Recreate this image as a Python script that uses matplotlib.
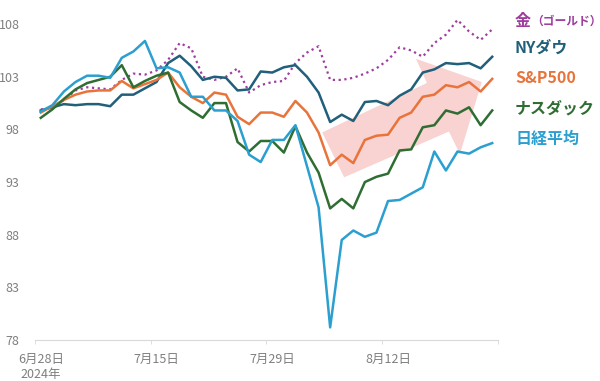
import numpy as np
import matplotlib
matplotlib.use("Agg")
import matplotlib.pyplot as plt
from matplotlib.patches import Polygon

plt.rcParams['font.family'] = ['Noto Sans CJK JP', 'DejaVu Sans']

# data: index vs 6/28 = 100, 40 trading days
tick_pos = [0, 10, 20, 30]
tick_labels = ["6月28日\n2024年", "7月15日", "7月29日", "8月12日"]
y_ticks = [78, 83, 88, 93, 98, 103, 108]

gold = [99.9, 100.0, 100.8, 101.7, 102.0, 101.9, 101.8, 102.7, 103.3, 103.2,
        103.6, 104.6, 106.2, 105.7, 103.0, 102.7, 103.0, 103.8, 101.5, 102.2,
        102.5, 102.6, 104.3, 105.3, 105.9, 102.7, 102.7, 102.9, 103.3, 103.8,
        104.6, 105.8, 105.5, 104.9, 106.2, 107.0, 108.4, 107.3, 106.5, 107.5]
dow = [99.8, 100.1, 100.4, 100.3, 100.4, 100.4, 100.2, 101.3, 101.3, 101.9,
       102.5, 104.3, 105.0, 104.0, 102.7, 103.0, 102.9, 101.7, 101.8, 103.5,
       103.4, 103.9, 104.1, 103.0, 101.5, 98.7, 99.4, 98.8, 100.6, 100.7,
       100.3, 101.2, 101.8, 103.4, 103.7, 104.3, 104.2, 104.3, 103.8, 104.9]
sp500 = [99.6, 100.2, 100.8, 101.3, 101.6, 101.7, 101.7, 102.6, 101.9, 102.3,
         102.7, 103.4, 102.0, 101.1, 100.5, 101.5, 101.3, 99.2, 98.5, 99.6,
         99.6, 99.2, 100.7, 99.6, 97.7, 94.6, 95.6, 94.8, 97.0, 97.4,
         97.5, 99.1, 99.6, 101.1, 101.3, 102.2, 102.0, 102.5, 101.6, 102.8]
nasdaq = [99.1, 99.9, 100.9, 101.8, 102.4, 102.7, 103.0, 104.1, 102.0, 102.6,
          103.1, 103.4, 100.6, 99.8, 99.1, 100.5, 100.5, 96.8, 95.9, 96.9,
          96.9, 95.8, 98.3, 95.8, 93.9, 90.5, 91.4, 90.5, 93.0, 93.5,
          93.8, 96.0, 96.1, 98.2, 98.4, 99.8, 99.5, 100.1, 98.4, 99.8]
nikkei = [99.7, 100.3, 101.6, 102.5, 103.1, 103.1, 102.9, 104.8, 105.4, 106.4,
          103.8, 103.9, 103.4, 101.1, 101.1, 99.8, 99.8, 98.8, 95.6, 94.9,
          97.0, 97.0, 98.4, 94.5, 90.6, 79.2, 87.5, 88.4, 87.8, 88.2,
          91.2, 91.3, 91.9, 92.5, 95.9, 94.1, 95.9, 95.7, 96.3, 96.7]

names = ["金", "NYダウ", "S&P500", "ナスダック", "日経平均"]
colors = ['#9e3d9e', '#215f7a', '#e8743b', '#2f6e33', '#2b9fd0']

x = np.arange(len(dow))

fig = plt.figure(figsize=(6, 3.81), dpi=100)
ax = fig.add_axes([0.0583, 0.1076, 0.7717, 0.8844])

# rebound arrow (annotation)
arrow = Polygon([(24.31, 97.71), (33.36, 102.41), (32.41, 104.71), (38.10, 102.50),
                 (36.21, 95.66), (35.26, 97.80), (26.21, 93.45)],
                closed=True, facecolor='#f29c9c', alpha=0.45, edgecolor='none', zorder=1)
ax.add_patch(arrow)

ax.plot(x, gold, color=colors[0], lw=1.6, ls=(0, (1, 1.6)), zorder=2)
ax.plot(x, dow, color=colors[1], lw=1.8, zorder=3)
ax.plot(x, sp500, color=colors[2], lw=1.8, zorder=3)
ax.plot(x, nasdaq, color=colors[3], lw=1.8, zorder=3)
ax.plot(x, nikkei, color=colors[4], lw=1.8, zorder=4)

ax.set_xlim(-0.5, len(x) - 0.5)
ax.set_ylim(78, 110)
ax.set_yticks(y_ticks)
ax.set_xticks(tick_pos)
ax.set_xticklabels(tick_labels, fontsize=9, color='#7f7f7f', linespacing=1.25)
ax.set_xticks(np.arange(-0.5, len(x), 10), minor=True)
ax.tick_params(axis='x', which='major', length=0, pad=9)
ax.tick_params(axis='x', which='minor', length=3, color='#d9d9d9')
ax.tick_params(axis='y', length=0, pad=11, labelsize=9, labelcolor='#7f7f7f')
for s in ['top', 'right', 'left']:
    ax.spines[s].set_visible(False)
ax.spines['bottom'].set_color('#d9d9d9')

# labels on the right
fig.text(515 / 600, 1 - 21 / 381, "金", color=colors[0], fontsize=11.5, weight='bold', va='center')
fig.text(531 / 600, 1 - 21 / 381, "（ゴールド）", color=colors[0], fontsize=8.5, weight='bold', va='center')
label_y = [48, 78, 109, 139]
for name, c, yy in zip(names[1:], colors[1:], label_y):
    fig.text(515 / 600, 1 - yy / 381, name, color=c, fontsize=11.5, weight='bold', va='center')

fig.savefig('out.png', dpi=100)
